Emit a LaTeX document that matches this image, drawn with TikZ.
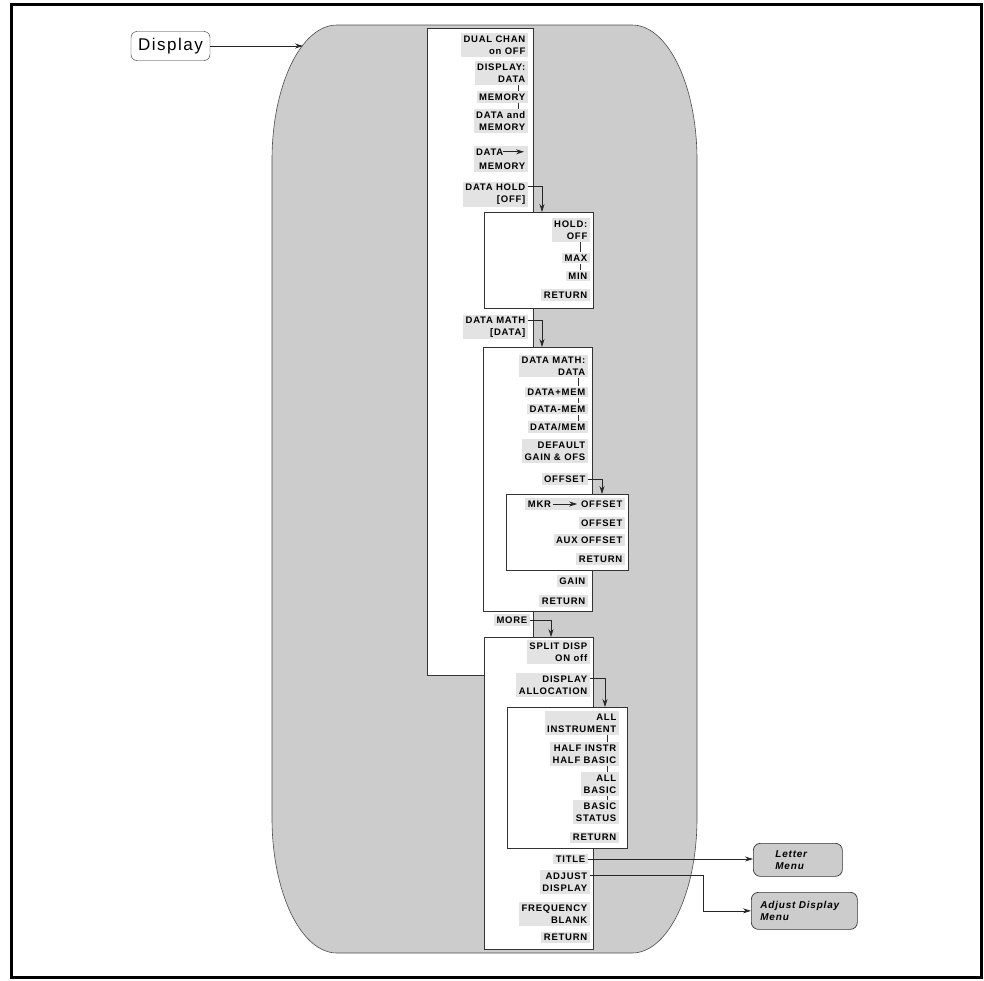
\documentclass[tikz,border=0pt]{standalone}
\usepackage{fontspec}
\setmainfont{Liberation Sans}
\newfontfamily\lblfont[LetterSpace=8]{Liberation Sans}
\newfontfamily\dispfont[LetterSpace=9]{Liberation Sans}
\usetikzlibrary{arrows.meta,calc}
\begin{document}
\begin{tikzpicture}[x=1pt,y=-1pt,
  lbl/.style={anchor=east, fill=black!11, font={\lblfont\bfseries\fontsize{9.5}{12}\selectfont}, align=right, inner xsep=2.5pt, inner ysep=2.2pt},
  menubox/.style={draw=black!80, fill=white, line width=0.7pt, inner sep=0pt, anchor=north west},
  arr/.style={draw=black!85, line width=0.7pt, -{Stealth[length=8pt,width=5pt]}},
  choice/.style={draw=black!80, line width=0.6pt},
  outmenu/.style={draw=black!80, fill=black!20, rounded corners=7pt, line width=0.7pt, font={\lblfont\bfseries\itshape\fontsize{10}{12.5}\selectfont}, align=left, anchor=north west}
]
\useasboundingbox (0,0) rectangle (984,980);
% outer frame
\draw[line width=3pt] (11.3,4.7) rectangle (981,977.5);
% big shaded region
\draw[draw=black!70, fill=black!20, line width=0.6pt]
  (337,25) -- (632,25) .. controls (668,25) and (697,85.5) .. (697,160)
  -- (697,818) .. controls (697,892.5) and (668,953) .. (632,953)
  -- (337,953) .. controls (301,953) and (272,892.5) .. (272,818)
  -- (272,160) .. controls (272,85.5) and (301,25) .. (337,25) -- cycle;
\coordinate (entry) at (303,45);
% Display key
\node[draw=black!85, fill=white, rounded corners=6pt, minimum width=79pt, minimum height=29pt, inner sep=0pt, font={\dispfont\fontsize{17}{19}\selectfont}] (display) at (170.5,46) {Display};
\draw[arr] (display.east) -- (display.east -| entry);

% column 1
\node[menubox, minimum width=106pt, minimum height=647pt] (col1) at (427,28) {};
\node[lbl] (c1a) at (528,45) {DUAL CHAN\\on OFF};
\node[lbl] (c1b) at (528,73) {DISPLAY:\\DATA};
\node[lbl] (c1c) at (528,97) {MEMORY};
\node[lbl] (c1d) at (528,121) {DATA and\\MEMORY};
\node[lbl, font={\lblfont\bfseries\fontsize{9.5}{14}\selectfont}] (c1e) at (528,159) {DATA\hspace*{22pt}\\MEMORY};
\draw[arr] ([xshift=-25pt,yshift=-5.5pt]c1e.north east) -- ([xshift=-4pt,yshift=-5.5pt]c1e.north east);
\node[lbl] (c1f) at (528,194) {DATA HOLD\\{[OFF]}};
\node[lbl] (c1g) at (528,327) {DATA MATH\\{[DATA]}};
\node[lbl] (c1h) at (530,620) {MORE};
\draw[choice] (c1b.south -| 518,0) -- (c1c.north -| 518,0);
\draw[choice] (c1c.south -| 518,0) -- (c1d.north -| 518,0);

% HOLD menu
\node[menubox, minimum width=109pt, minimum height=96pt] (holdbox) at (484,212) {};
\node[lbl] (h1) at (590,230) {HOLD:\\OFF};
\node[lbl] (h2) at (590,258) {MAX};
\node[lbl] (h3) at (590,276) {MIN};
\node[lbl] (h4) at (590,295) {RETURN};
\draw[choice] (h1.south -| 580,0) -- (h2.north -| 580,0);
\draw[choice] (h2.south -| 580,0) -- (h3.north -| 580,0);
\draw[arr] ([yshift=-5.5pt]c1f.north east) -| ([xshift=58pt]holdbox.north west);

% DATA MATH menu
\node[menubox, minimum width=109pt, minimum height=264pt] (mathbox) at (483,347) {};
\draw[arr] ([yshift=-5.5pt]c1g.north east) -| ([xshift=59pt]mathbox.north west);
\node[lbl] (m1) at (588,366) {DATA MATH:\\DATA};
\node[lbl] (m2) at (588,392) {DATA+MEM};
\node[lbl] (m3) at (588,409) {DATA-MEM};
\node[lbl] (m4) at (588,427) {DATA/MEM};
\node[lbl] (m5) at (588,451) {DEFAULT\\GAIN \& OFS};
\node[lbl] (m6) at (588,479) {OFFSET};
\node[lbl] (m7) at (588,581) {GAIN};
\node[lbl] (m8) at (588,601) {RETURN};
\draw[choice] (m1.south -| 578,0) -- (m2.north -| 578,0);
\draw[choice] (m2.south -| 578,0) -- (m3.north -| 578,0);
\draw[choice] (m3.south -| 578,0) -- (m4.north -| 578,0);

% OFFSET menu
\node[menubox, minimum width=122pt, minimum height=76pt] (offbox) at (506,494) {};
\draw[arr] (m6.east) -| ([xshift=96pt]offbox.north west);
\node[lbl] (o1) at (625,504) {MKR\hspace*{30pt}OFFSET};
\draw[arr] ([xshift=28pt]o1.west) -- ([xshift=52pt]o1.west);
\node[lbl] (o2) at (625,523) {OFFSET};
\node[lbl] (o3) at (625,540) {AUX OFFSET};
\node[lbl] (o4) at (625,559) {RETURN};

% MORE menu
\node[menubox, minimum width=109pt, minimum height=312pt] (morebox) at (484,637) {};
\draw[arr] (c1h.east) -| ([xshift=67pt]morebox.north west);
\node[lbl] (r1) at (590,652) {SPLIT DISP\\ON off};
\node[lbl] (r2) at (590,685) {DISPLAY\\ALLOCATION};
\node[lbl] (r3) at (588,859) {TITLE};
\node[lbl] (r4) at (590,882) {ADJUST\\DISPLAY};
\node[lbl] (r5) at (590,914) {FREQUENCY\\BLANK};
\node[lbl] (r6) at (590,937) {RETURN};

% DISPLAY ALLOCATION menu
\node[menubox, minimum width=120pt, minimum height=141pt] (allocbox) at (507,707) {};
\draw[arr] ([yshift=-5.5pt]r2.north east) -| ([xshift=98pt]allocbox.north west);
\node[lbl] (a1) at (619,723) {ALL\\INSTRUMENT};
\node[lbl] (a2) at (619,754) {HALF INSTR\\HALF BASIC};
\node[lbl] (a3) at (619,784) {ALL\\BASIC};
\node[lbl] (a4) at (619,812) {BASIC\\STATUS};
\node[lbl] (a5) at (619,837) {RETURN};
\draw[choice] (a1.south -| 607,0) -- (a2.north -| 607,0);
\draw[choice] (a2.south -| 607,0) -- (a3.north -| 607,0);
\draw[choice] (a3.south -| 607,0) -- (a4.north -| 607,0);

% external menus
\node[outmenu, minimum height=33pt, text width=45pt, inner xsep=22pt] (letter) at (753,843) {Letter\\Menu};
\node[outmenu, minimum height=37pt, text width=88pt, inner xsep=9pt] (adjust) at (751,892) {Adjust Display\\Menu};
\draw[arr] (r3.east) -- (r3.east -| letter.west);
\draw[arr] ([yshift=-5pt]r4.north east) -| ([xshift=-48pt]adjust.west) -- (adjust.west);
\end{tikzpicture}
\end{document}
